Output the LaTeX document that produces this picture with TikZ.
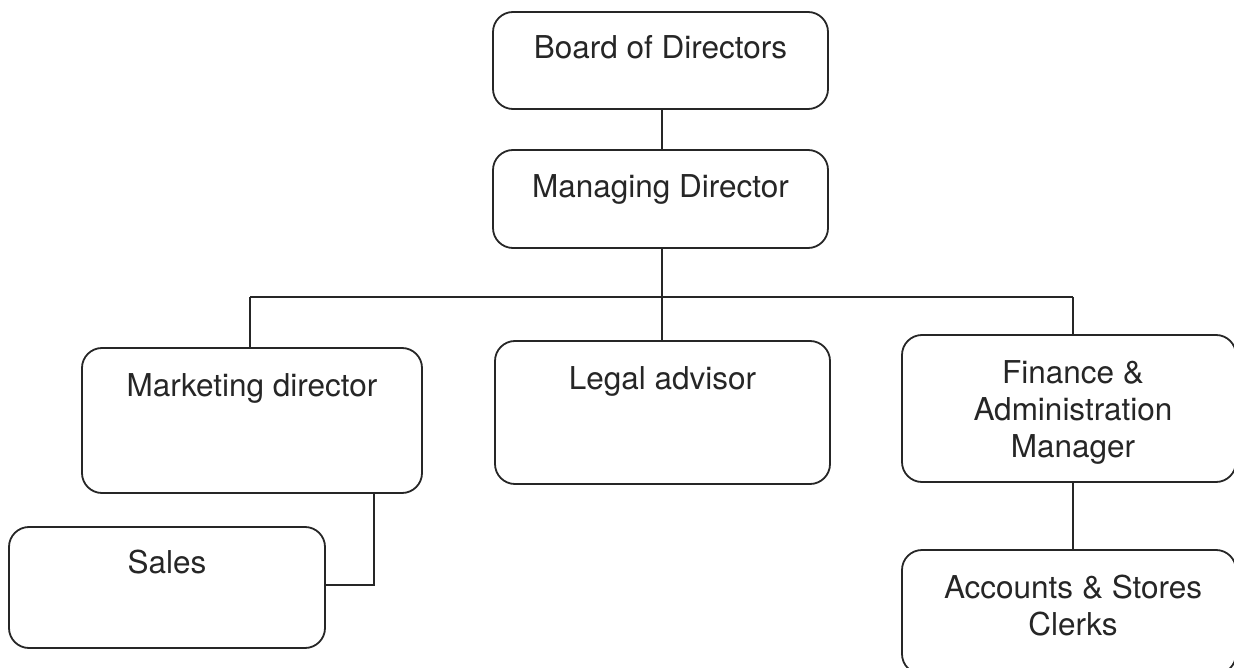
\documentclass[tikz,border=0pt]{standalone}
\usepackage{fontspec}
\setmainfont{TeX Gyre Heros}
\begin{document}
\begin{tikzpicture}[x=1pt,y=-1pt,
  box/.style={draw=black!85, line width=1.8pt, rounded corners=20pt, inner sep=0pt},
  lbl/.style={anchor=base, inner sep=0pt, font=\fontsize{31.5}{36}\selectfont, text=black!85, align=center},
  conn/.style={draw=black!85, line width=1.8pt}]
\useasboundingbox (0,0) rectangle (1234,668);
% boxes
\node[box, minimum width=335pt, minimum height=97pt] (bod) at (660.5,60.5) {};
\node[box, minimum width=335pt, minimum height=98pt] (md) at (660.5,199) {};
\node[box, minimum width=340pt, minimum height=145pt] (mkt) at (252,420.5) {};
\node[box, minimum width=335pt, minimum height=143pt] (legal) at (662.5,412.5) {};
\node[box, minimum width=334pt, minimum height=147pt] (fin) at (1069,408.5) {};
\node[box, minimum width=334pt, minimum height=124pt] (acc) at (1069,612) {};
\node[box, minimum width=316pt, minimum height=121pt] (sales) at (167,587.5) {};
% texts
\node[lbl] (bodt) at (660.5,59) {Board of Directors};
\node[lbl] (mdt) at (660.5,198) {Managing Director};
\node[lbl] (mktt) at (252,396) {Marketing director};
\node[lbl] (legalt) at (662.5,389) {Legal advisor};
\node[lbl] (fint1) at (1073,383) {Finance \&};
\node[lbl] (fint2) at (1073,420) {Administration};
\node[lbl] (fint3) at (1073,457) {Manager};
\node[lbl] (acct1) at (1073,598) {Accounts \& Stores};
\node[lbl] (acct2) at (1073,635) {Clerks};
\node[lbl] (salest) at (167,573) {Sales};
% connectors
\coordinate (jL) at (250,297);
\coordinate (jM) at (662,297);
\coordinate (jR) at (1073,297);
\coordinate (sk) at (374,585);
\draw[conn] (bod.south -| jM) -- (md.north -| jM);
\draw[conn] (md.south -| jM) -- (jM);
\draw[conn] (jL) -- (jR);
\draw[conn] (jL) -- (mkt.north -| jL);
\draw[conn] (jM) -- (legal.north -| jM);
\draw[conn] (jR) -- (fin.north -| jR);
\draw[conn] (mkt.south -| sk) -- (sk) -- (sales.east |- sk);
\draw[conn] (fin.south -| jR) -- (acc.north -| jR);
\end{tikzpicture}
\end{document}
